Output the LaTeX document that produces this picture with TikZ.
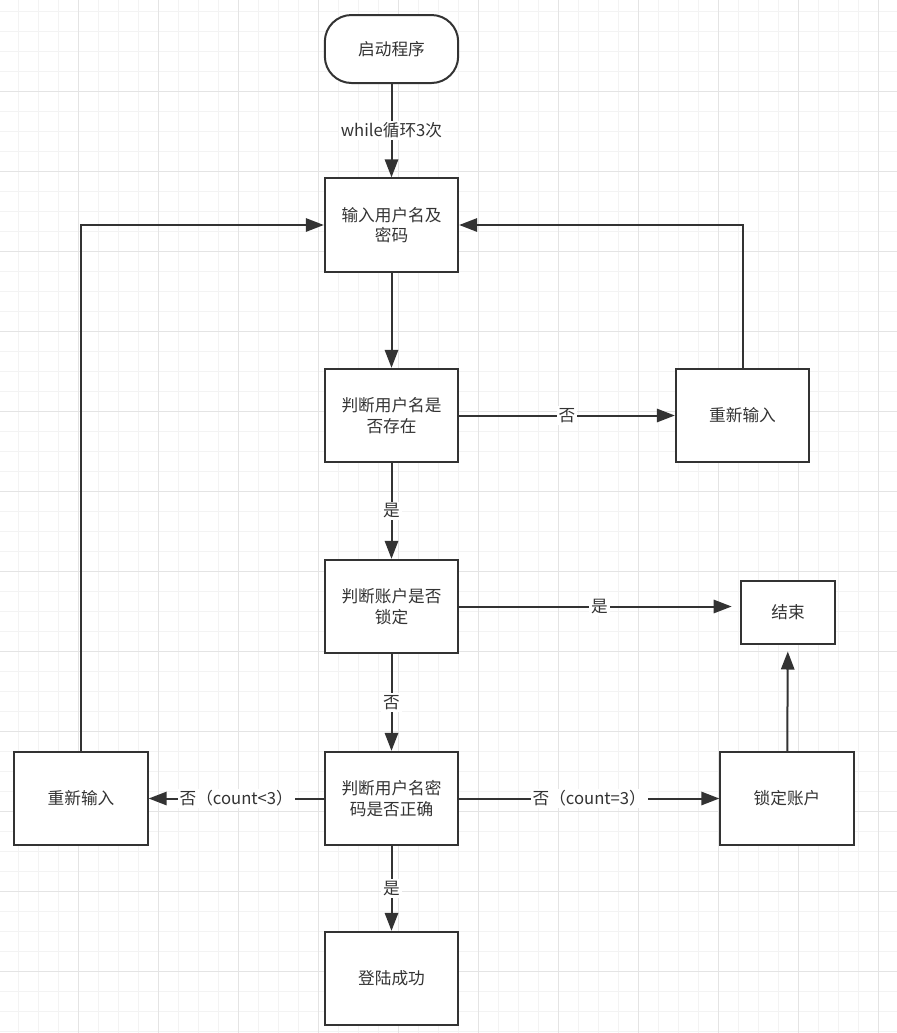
\documentclass[tikz,border=0pt]{standalone}
\usepackage{fontspec}
\setmainfont{Noto Sans CJK SC}
\usetikzlibrary{arrows.meta}

\definecolor{linec}{HTML}{333333}
\definecolor{textc}{HTML}{333333}
\definecolor{gridminor}{HTML}{F3F3F3}
\definecolor{gridmajor}{HTML}{E4E4E4}

\tikzset{
  box/.style={draw=linec, line width=1.5pt, fill=white, text=textc,
    minimum width=100pt, minimum height=70pt, inner sep=0pt, align=center,
    font=\fontsize{12.5}{15.5}\selectfont},
  startbox/.style={box, rounded corners=20pt, minimum height=51pt},
  endbox/.style={box, minimum width=71pt, minimum height=47pt},
  lbl/.style={fill=white, inner sep=1.5pt, text=textc,
    font=\fontsize{12.5}{15.5}\selectfont},
  arr/.style={draw=linec, line width=1.5pt, -{Triangle[length=13.5pt,width=10pt]}},
}

\begin{document}
\begin{tikzpicture}[x=0.75pt,y=-0.75pt]

      \useasboundingbox (0,0) rectangle (897,1033);

      % grid
      \foreach \x in {18,38,...,897} \draw[gridminor,line width=0.75pt] (\x,0) -- (\x,1033);
      \foreach \y in {11,31,...,1033} \draw[gridminor,line width=0.75pt] (0,\y) -- (897,\y);
      \foreach \x in {78,158,...,897} \draw[gridmajor,line width=0.75pt] (\x,0) -- (\x,1033);
      \foreach \y in {91,171,...,1033} \draw[gridmajor,line width=0.75pt] (0,\y) -- (897,\y);

      \node[startbox] (start) at (391.5,49) {启动程序};

      \begin{scope}[every node/.style={box}]
        \node (input)   at (391.5,225)  {输入用户名及\\密码};
        \node (exists)  at (391.5,415.5) {判断用户名是\\否存在};
        \node (retry1)  at (742.5,415.5) {重新输入};
        \node (locked)  at (391.5,606.5) {判断账户是否\\锁定};
        \node (check)   at (391.5,798.5) {判断用户名密\\码是否正确};
        \node (retry2)  at (81,798.5)    {重新输入};
        \node (lock)    at (787,798.5)   {锁定账户};
        \node (success) at (391.5,978.5) {登陆成功};
      \end{scope}

      \node[endbox] (finish) at (788,612.5) {结束};

      \begin{scope}[every node/.style={lbl}]
        \path (start)  edge[arr] node {while循环3次} (input);
        \path (input)  edge[arr] (exists);
        \path (exists) edge[arr] node {否} (retry1);
        \path (exists) edge[arr] node {是} (locked);
        \path (locked) edge[arr] node {否} (check);
        \path (check)  edge[arr] node {是} (success);
        \path (check)  edge[arr] node {否（count<3）} (retry2);
        \path (check)  edge[arr] node {否（count=3）} (lock);
        \path (locked.east) edge[arr,shorten >=6pt] node {是} (locked.east -| finish.west);
        \path (lock)   edge[arr,shorten >=5pt] (finish);
      \end{scope}

      \draw[arr] (retry1) |- (input);
      \draw[arr] (retry2) |- (input);

    \end{tikzpicture}
\end{document}
